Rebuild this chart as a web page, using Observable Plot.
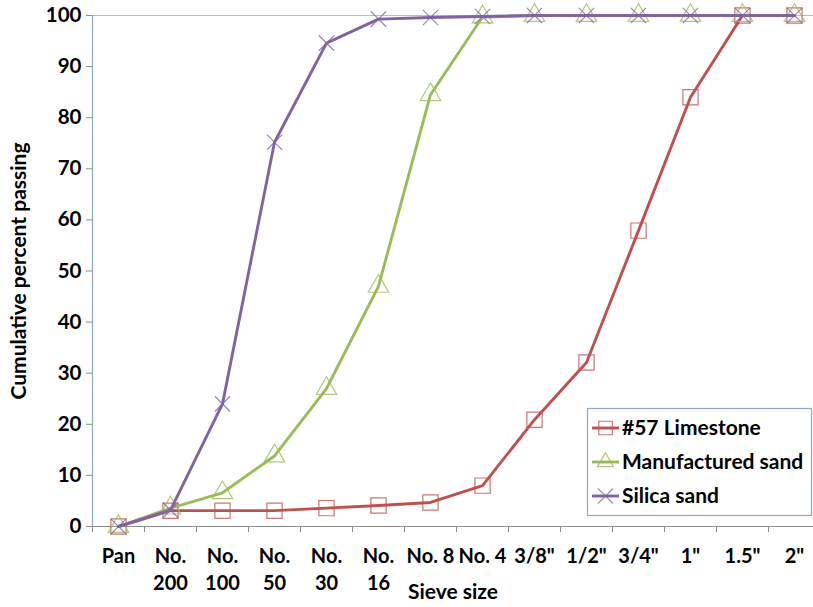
<!DOCTYPE html>
<html>
<head>
<meta charset="utf-8">
<script src="https://cdn.jsdelivr.net/npm/d3@7"></script>
<script src="https://cdn.jsdelivr.net/npm/@observablehq/plot@0.6"></script>
<style>
  html, body { margin: 0; padding: 0; background: #fff; }
  #chart { position: relative; width: 813px; height: 607px; overflow: hidden; }
  svg { font-family: Lato, "Open Sans", sans-serif; }
</style>
</head>
<body>
<div id="chart"></div>
<script>
// Sieve categories (tick labels)
const sieves = ["Pan", "No.\n200", "No.\n100", "No.\n50", "No.\n30", "No.\n16", "No. 8", "No. 4",
  "3/8\"", "1/2\"", "3/4\"", "1\"", "1.5\"", "2\""];
// Cumulative percent passing per series
const limestone    = [0, 3.1, 3.1, 3.1, 3.6, 4.1, 4.7, 8.0, 20.9, 32.1, 57.9, 84.0, 100, 100];
const manufactured = [0, 3.6, 6.6, 13.8, 27.0, 47.0, 84.5, 99.7, 100, 100, 100, 100, 100, 100];
const silica       = [0, 3.2, 24.0, 75.2, 94.6, 99.3, 99.6, 99.8, 100, 100, 100, 100, 100, 100];
const yTicks = [0, 10, 20, 30, 40, 50, 60, 70, 80, 90, 100];

const seriesNames = ["#57 Limestone", "Manufactured sand", "Silica sand"];
const seriesValues = [limestone, manufactured, silica];
const colors = ["#C0504D", "#9BBB59", "#8064A2"];
const symbols = ["square", "triangle", "times"];
const symbolR = [8.6, 7.6, 7.0];

const xRange = [92, 820];
const step = (xRange[1] - xRange[0]) / sieves.length;

const rows = seriesNames.map((name, s) =>
  sieves.map((c, i) => ({series: name, sieve: c, value: seriesValues[s][i]})));

const marks = [
  Plot.ruleY([100], {stroke: "#A7C0DE", strokeWidth: 1.2}),
  Plot.ruleY([0], {stroke: "#8C8C8C", strokeWidth: 1}),
  Plot.ruleX([sieves[0]], {dx: -step / 2, stroke: "#8EA8CB", strokeWidth: 1.2}),
  Plot.axisY({ticks: yTicks, tickSize: 6, tickPadding: 5, fontSize: 20.5, fontWeight: "bold",
    stroke: "#8C8C8C", fill: "#000", label: null}),
  Plot.axisX({tickSize: 6, tickFormat: () => "", dx: -step / 2, stroke: "#8C8C8C", label: null}),
  Plot.axisX({tickSize: 0, tickPadding: 17, fontSize: 20, fontWeight: "bold", lineHeight: 1.35,
    fill: "#000", label: null}),
  Plot.text(["Cumulative percent passing"], {frameAnchor: "left", textAnchor: "middle", rotate: -90, dx: -73,
    fontSize: 21, fontWeight: "bold", fill: "#000"}),
  Plot.text(["Sieve size"], {frameAnchor: "bottom", dy: 72, fontSize: 21, fontWeight: "bold", fill: "#000"})
];
rows.forEach((data, s) => {
  marks.push(Plot.line(data, {x: "sieve", y: "value", stroke: colors[s], strokeWidth: 2.9}));
  marks.push(Plot.dot(data, {x: "sieve", y: "value", symbol: () => symbols[s], r: symbolR[s],
    stroke: colors[s], strokeWidth: 1.2, strokeOpacity: 0.8, fill: "none"}));
});

const chart = Plot.plot({
  width: 813,
  height: 607,
  marginTop: 15,
  marginBottom: 81,
  marginLeft: 92,
  marginRight: 0,
  style: {fontFamily: "Lato, 'Open Sans', sans-serif", overflow: "visible"},
  x: {type: "point", domain: sieves, range: xRange, padding: 0.5, axis: null},
  y: {domain: [0, 100], axis: null},
  symbol: {domain: symbols, range: symbols},
  marks
});
document.getElementById("chart").appendChild(chart);

// Legend
const svg = d3.select(chart);
const lg = svg.append("g").attr("transform", "translate(587,408)");
lg.append("rect").attr("x", 0.5).attr("y", 0.5).attr("width", 224).attr("height", 107)
  .attr("fill", "#fff").attr("stroke", "#8EA8CB").attr("stroke-width", 1.2);
seriesNames.forEach((name, s) => {
  const cy = 20 + s * 34;
  const g = lg.append("g").attr("transform", `translate(0,${cy})`);
  g.append("line").attr("x1", 5).attr("x2", 32).attr("y1", 0).attr("y2", 0)
    .attr("stroke", colors[s]).attr("stroke-width", 2.9);
  const d3sym = [d3.symbolSquare2, d3.symbolTriangle2, d3.symbolTimes][s];
  g.append("path").attr("transform", "translate(18.5,0)")
    .attr("d", d3.symbol(d3sym, Math.PI * symbolR[s] * symbolR[s])())
    .attr("fill", "none").attr("stroke", colors[s]).attr("stroke-width", 1.2).attr("stroke-opacity", 0.8);
  g.append("text").attr("x", 35).attr("y", 0).attr("dy", "0.35em").attr("text-anchor", "start")
    .attr("font-size", 21).attr("font-weight", "bold").attr("fill", "#000").text(name);
});
</script>
</body>
</html>
